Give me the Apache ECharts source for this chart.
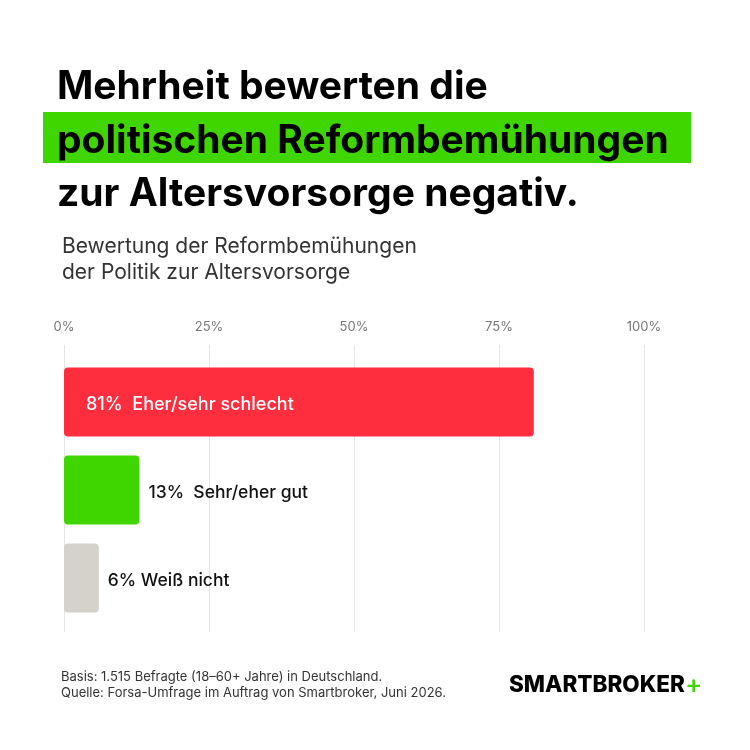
<!DOCTYPE html>
<html>
<head>
<meta charset="utf-8">
<script src="https://cdn.jsdelivr.net/npm/echarts@6/dist/echarts.min.js"></script>
<style>
  html, body { margin: 0; padding: 0; background: #fff; }
  #chart { width: 750px; height: 750px; }
</style>
</head>
<body>
<div id="chart"></div>
<script>
// data
var categories = ['Eher/sehr schlecht', 'Sehr/eher gut', 'Weiß nicht'];
var values = [81, 13, 6];
var barColors = ['#ff2e3f', '#3fd600', '#d5d2cb'];
var labelGaps = ['  ', '  ', ' '];
var tickValues = [0, 25, 50, 75, 100];

var font = 'Inter, "Noto Sans", sans-serif';

var chart = echarts.init(document.getElementById('chart'));

var barData = values.map(function (v, i) {
  var inside = i === 0;
  return {
    value: v,
    itemStyle: { color: barColors[i], borderRadius: 4 },
    label: {
      show: true,
      position: inside ? 'insideLeft' : 'right',
      distance: inside ? 22 : 9,
      offset: [0, 3],
      color: inside ? '#fff' : '#111',
      fontSize: inside ? 18 : 17.5,
      fontWeight: 500,
      fontFamily: font,
      formatter: v + '%' + labelGaps[i] + categories[i]
    }
  };
});

var option = {
  backgroundColor: '#fff',
  animation: false,
  grid: [
    { left: 64, width: 580, top: 358, height: 264 },
    { left: 64, width: 580, top: 345, height: 287 }
  ],
  xAxis: [
    { gridIndex: 0, type: 'value', min: 0, max: 100, show: false },
    {
      gridIndex: 1, type: 'value', min: tickValues[0], max: tickValues[tickValues.length - 1],
      interval: tickValues[1] - tickValues[0], position: 'top',
      axisLine: { show: false }, axisTick: { show: false },
      axisLabel: { color: '#777', fontSize: 13, fontFamily: font, margin: 11, formatter: '{value}%' },
      splitLine: { lineStyle: { color: '#e6e6e6', width: 1 } }
    }
  ],
  yAxis: [
    { gridIndex: 0, type: 'category', data: categories, inverse: true, show: false, boundaryGap: true },
    { gridIndex: 1, type: 'value', show: false, splitLine: { show: false } }
  ],
  series: [
    {
      type: 'bar', xAxisIndex: 0, yAxisIndex: 0,
      barWidth: 69, data: barData, z: 3
    }
  ],
  graphic: [
    { type: 'rect', shape: { x: 43, y: 112, width: 648, height: 51 }, style: { fill: '#3fd600' }, z: 0 },
    { type: 'text', x: 57, y: 87, style: { text: 'Mehrheit bewerten die', font: '700 39px ' + font, fill: '#000', verticalAlign: 'middle' } },
    { type: 'text', x: 57, y: 141, style: { text: 'politischen Reformbemühungen', font: '700 39px ' + font, fill: '#000', verticalAlign: 'middle' }, z: 2 },
    { type: 'text', x: 57, y: 194, style: { text: 'zur Altersvorsorge negativ.', font: '700 39px ' + font, fill: '#000', verticalAlign: 'middle' } },
    { type: 'text', x: 62, y: 247, style: { text: 'Bewertung der Reformbemühungen', font: '400 21px ' + font, fill: '#333', verticalAlign: 'middle' } },
    { type: 'text', x: 62, y: 273, style: { text: 'der Politik zur Altersvorsorge', font: '400 21px ' + font, fill: '#333', verticalAlign: 'middle' } },
    { type: 'text', x: 61, y: 677, style: { text: 'Basis: 1.515 Befragte (18–60+ Jahre) in Deutschland.', font: '400 13px ' + font, fill: '#333', verticalAlign: 'middle' } },
    { type: 'text', x: 61, y: 693, style: { text: 'Quelle: Forsa-Umfrage im Auftrag von Smartbroker, Juni 2026.', font: '400 13px ' + font, fill: '#333', verticalAlign: 'middle' } },
    {
      type: 'text', x: 509, y: 685,
      style: {
        text: '{a|SMARTBROKER}{b|+}',
        verticalAlign: 'middle',
        rich: {
          a: { font: '800 22.5px ' + font, fill: '#000' },
          b: { font: '500 26px ' + font, fill: '#3fd600' }
        }
      }
    }
  ]
};

chart.setOption(option);
</script>
</body>
</html>
